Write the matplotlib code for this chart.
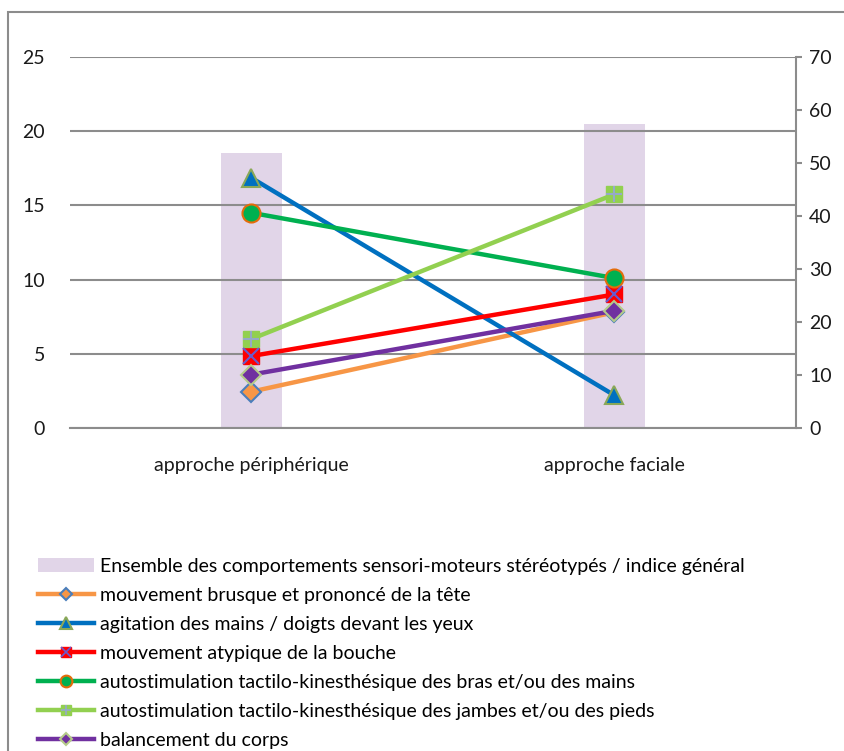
import matplotlib
matplotlib.use("Agg")
import matplotlib.pyplot as plt
from matplotlib.patches import Rectangle, Patch
from matplotlib.lines import Line2D

plt.rcParams['font.family'] = ['Lato', 'DejaVu Sans']

categories = ["approche périphérique", "approche faciale"]
indice_general = [51.9, 57.4]
s_tete = [2.45, 7.8]
s_mains_yeux = [16.85, 2.2]
s_bouche = [4.85, 9.0]
s_bras = [14.5, 10.1]
s_jambes = [6.0, 15.75]
s_balancement = [3.6, 7.9]

bar_label = "Ensemble des comportements sensori-moteurs stéréotypés / indice général"
labels = [
    "mouvement brusque et prononcé de la tête",
    "agitation des mains / doigts devant les yeux",
    "mouvement atypique de la bouche",
    "autostimulation tactilo-kinesthésique des bras et/ou des mains",
    "autostimulation tactilo-kinesthésique des jambes et/ou des pieds",
    "balancement du corps",
]

W, H = 845, 751
FS = 14
fig = plt.figure(figsize=(W / 100, H / 100), dpi=100)
# outer frame
fig.patches.append(Rectangle((8 / W, -0.1), 1.2, 1 - 12 / H + 0.1, transform=fig.transFigure,
                             fill=False, edgecolor='#8c8c8c', linewidth=1.5))

ax = fig.add_axes([70 / W, 1 - 428 / H, (796 - 70) / W, (428 - 57) / H])
ax2 = ax.twinx()
ax.set_zorder(ax2.get_zorder() + 1)
ax.patch.set_visible(False)

x = list(range(len(categories)))
ax2.bar(x, indice_general, width=0.168, color='#E1D5E8', zorder=1)
ax2.set_ylim(0, 70)
ax2.set_yticks(range(0, 71, 10))

ax.set_xlim(-0.5, 1.5)
ax.set_ylim(0, 25)
ax.set_yticks(range(0, 26, 5))
ax.set_xticks(x)
ax.set_xticklabels(categories)
ax.yaxis.grid(True, color='#8c8c8c', linewidth=1.5)
ax.set_axisbelow(True)

lw = 3.2
ms = 12
styles = [
    (s_tete, '#F79646', dict(marker='D', markerfacecolor='#F79646', markeredgecolor='#4A7EBB', markersize=ms - 2, markeredgewidth=1.5), None),
    (s_mains_yeux, '#0070C0', dict(marker='^', markerfacecolor='#0070C0', markeredgecolor='#8AA858', markersize=ms + 1, markeredgewidth=1.5), None),
    (s_bouche, '#FF0000', dict(marker='s', markerfacecolor='#FF0000', markeredgecolor='#FF0000', markersize=ms), 'x'),
    (s_bras, '#00B050', dict(marker='o', markerfacecolor='#00B050', markeredgecolor='#E46C0A', markersize=ms + 1, markeredgewidth=1.5), None),
    (s_jambes, '#92D050', dict(marker='s', markerfacecolor='#92D050', markeredgecolor='#92D050', markersize=ms), '+'),
    (s_balancement, '#7030A0', dict(marker='D', markerfacecolor='#7030A0', markeredgecolor='#B5CB8A', markersize=ms - 2, markeredgewidth=1.5), None),
]
handles = [Patch(facecolor='#E1D5E8', edgecolor='none')]
for (vals, col, mk, over), lab in zip(styles, labels):
    ax.plot(x, vals, color=col, linewidth=lw, zorder=3, **mk)
    h = Line2D([], [], color=col, linewidth=lw, **{k: (v * 0.65 if k == 'markersize' else v) for k, v in mk.items()})
    if over:
        ocol = '#6A5ACD' if over == 'x' else '#95A9C8'
        ax.plot(x, vals, linestyle='none', marker=over, markersize=ms - 1, markeredgecolor=ocol,
                markeredgewidth=1.5, zorder=4)
        h2 = Line2D([], [], linestyle='none', marker=over, markersize=(ms - 1) * 0.65,
                    markeredgecolor=ocol, markeredgewidth=1.2)
        handles.append((h, h2))
    else:
        handles.append(h)

for a in (ax, ax2):
    for s in ('top', 'left', 'right'):
        a.spines[s].set_visible(False)
ax.spines['bottom'].set_color('#8c8c8c')
ax.spines['bottom'].set_linewidth(1.5)
ax2.spines['bottom'].set_visible(False)
ax2.spines['right'].set_visible(True)
ax2.spines['right'].set_color('#8c8c8c')
ax2.spines['right'].set_linewidth(1.5)

ax.tick_params(axis='y', length=0, pad=18, labelsize=FS, labelcolor='#1a1a1a')
ax.tick_params(axis='x', length=0, pad=21, labelsize=FS, labelcolor='#1a1a1a')
ax2.tick_params(axis='y', length=4.5, width=1.5, color='#8c8c8c', pad=5, labelsize=FS, labelcolor='#1a1a1a')

fig.legend(handles, [bar_label] + labels, loc='upper left', bbox_to_anchor=(30 / W, 1 - 550 / H),
           frameon=False, fontsize=FS, handlelength=2.9, handletextpad=0.3, labelspacing=0.62,
           borderaxespad=0)

fig.savefig("out.png", dpi=100)
